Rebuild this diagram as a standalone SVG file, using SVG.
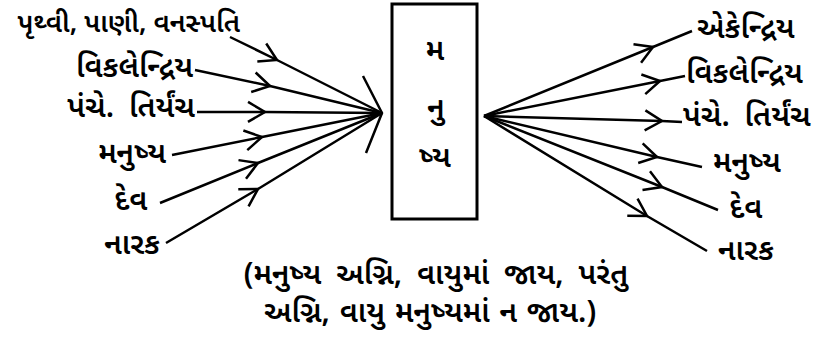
<svg xmlns="http://www.w3.org/2000/svg" width="829" height="344" viewBox="0 0 829 344">
<defs>
<style>
text{font-family:"Noto Sans Gujarati","Lohit Gujarati","Noto Sans",sans-serif;font-size:30px;font-weight:600;fill:#000;}
.l{text-anchor:end}
.r{text-anchor:start}
.m{text-anchor:middle}
.ln{fill:none;stroke:#000;stroke-width:2.5;marker-mid:url(#ar)}
.n{word-spacing:7px}
.n2{word-spacing:2px}
</style>
<marker id="ar" viewBox="-20 -12 22 24" markerWidth="22" markerHeight="24" refX="0" refY="0" orient="auto" markerUnits="userSpaceOnUse">
<path d="M-17,-10 L0,0 L-17,10" fill="none" stroke="#000" stroke-width="2.5"/>
</marker>
</defs>
<g id="connectors">
<polyline class="ln" points="230,37 277,60 382,113"/>
<polyline class="ln" points="195,70 270,86 382,113"/>
<polyline class="ln" points="197,112 265,112 382,113"/>
<polyline class="ln" points="172,155 262,137 382,113"/>
<polyline class="ln" points="160,203 258,163 382,113"/>
<polyline class="ln" points="166,243 258,189 382,113"/>
<path d="M363,76 L382,113 L366,153" fill="none" stroke="#000" stroke-width="2.5"/>
<polyline class="ln" points="484,116 653,47 692,31"/>
<polyline class="ln" points="484,116 660,81 685,76"/>
<polyline class="ln" points="484,116 662,121 682,122"/>
<polyline class="ln" points="484,116 657,157 702,167"/>
<polyline class="ln" points="484,116 662,187 718,210"/>
<polyline class="ln" points="484,116 647,216 707,251"/>
</g>
<g id="center">
<rect x="392" y="4" width="85" height="215" fill="#fff" stroke="#000" stroke-width="3"/>
<text class="m" x="435" y="60">મ</text>
<text class="m" x="436" y="118">નુ</text>
<text class="m" x="435" y="167">ષ્ય</text>
</g>
<g id="left">
<text class="l" x="240" y="32" style="font-size:27px">પૃથ્વી, પાણી, વનસ્પતિ</text>
<text class="l" x="193" y="77">વિકલેન્દ્રિય</text>
<text class="l n" x="195" y="117">પંચે. તિર્યંચ</text>
<text class="l" x="166" y="163">મનુષ્ય</text>
<text class="m" x="131" y="210">દેવ</text>
<text class="l" x="160" y="254">નારક</text>
</g>
<g id="right">
<text class="r" x="697" y="38">એકેન્દ્રિય</text>
<text class="r" x="686" y="83">વિકલેન્દ્રિય</text>
<text class="r n" x="683" y="126">પંચે. તિર્યંચ</text>
<text class="r" x="713" y="172">મનુષ્ય</text>
<text class="m" x="746" y="218">દેવ</text>
<text class="r" x="718" y="260">નારક</text>
</g>
<g id="note">
<text class="m n" x="436" y="284">(મનુષ્ય અગ્નિ, વાયુમાં જાય, પરંતુ</text>
<text class="m n2" x="430" y="322">અગ્નિ, વાયુ મનુષ્યમાં ન જાય.)</text>
</g>
</svg>
